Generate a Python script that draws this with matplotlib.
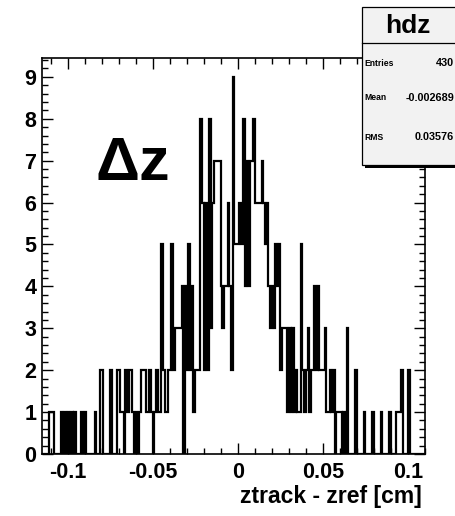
import matplotlib
matplotlib.use("Agg")
import matplotlib.pyplot as plt
from matplotlib.patches import Rectangle
from matplotlib.ticker import MultipleLocator, FixedLocator, FixedFormatter
import numpy as np

plt.rcParams['font.family'] = ['Liberation Sans', 'DejaVu Sans']

# hdz: 225 bins of 0.001 cm from -0.115 to 0.11
x_lo, x_hi = -0.115, 0.11
counts = [
    0, 0, 0, 0, 1, 1, 1, 0, 0, 0, 0, 1, 0, 1, 0,
    1, 0, 1, 0, 1, 0, 0, 0, 1, 0, 1, 0, 0, 0, 0,
    0, 1, 0, 0, 2, 2, 0, 0, 0, 0, 2, 0, 0, 0, 2,
    2, 1, 1, 0, 2, 1, 2, 2, 1, 0, 1, 0, 1, 2, 2,
    2, 1, 1, 2, 1, 0, 1, 2, 1, 1, 5, 2, 1, 1, 2,
    2, 5, 2, 3, 3, 3, 3, 4, 0, 4, 2, 5, 2, 4, 1,
    2, 2, 2, 8, 6, 2, 6, 2, 8, 3, 6, 7, 7, 7, 7,
    4, 3, 4, 4, 6, 4, 2, 9, 5, 5, 5, 6, 5, 8, 4,
    7, 4, 7, 7, 8, 6, 6, 6, 6, 7, 6, 5, 6, 4, 3,
    4, 3, 5, 4, 5, 2, 3, 3, 3, 1, 3, 1, 3, 1, 2,
    1, 1, 5, 2, 1, 2, 3, 1, 2, 2, 4, 2, 4, 2, 2,
    2, 3, 1, 1, 2, 1, 2, 0, 1, 1, 1, 0, 1, 0, 3,
    0, 0, 0, 0, 2, 0, 0, 0, 0, 1, 0, 0, 0, 0, 1,
    0, 0, 0, 0, 1, 0, 0, 0, 0, 1, 0, 0, 0, 1, 1,
    1, 2, 0, 0, 0, 2, 0, 0, 0, 0, 0, 0, 0, 0, 0,
]
x_ticks = [-0.1, -0.05, 0, 0.05, 0.1]
x_tick_labels = ['-0.1', '-0.05', '0', '0.05', '0.1']
y_ticks = list(range(10))
stats = [('Entries', '430'), ('Mean', '-0.002689'), ('RMS', '0.03576')]

W, H = 455, 516
fig = plt.figure(figsize=(W / 100, H / 100), dpi=100)
fig.patch.set_facecolor('white')

ax = fig.add_axes([42 / W, 1 - 454 / H, 383 / W, 396 / H])
edges = np.linspace(x_lo, x_hi, len(counts) + 1)
ax.stairs(counts, edges, color='black', linewidth=1.6, baseline=0)

ax.set_xlim(x_lo, x_hi)
ax.set_ylim(0, max(counts) * 1.05)

ax.xaxis.set_major_locator(FixedLocator(x_ticks))
ax.xaxis.set_major_formatter(FixedFormatter(x_tick_labels))
ax.xaxis.set_minor_locator(MultipleLocator(0.01))
ax.yaxis.set_major_locator(FixedLocator(y_ticks))
ax.yaxis.set_minor_locator(MultipleLocator(0.2))

ax.tick_params(which='both', direction='in', top=True, right=True, width=1.0)
ax.tick_params(which='major', length=8)
ax.tick_params(which='minor', length=4.5)
ax.tick_params(axis='x', pad=6, labelsize=15.5)
ax.tick_params(axis='y', pad=4, labelsize=15.5)
for lab in ax.get_xticklabels() + ax.get_yticklabels():
    lab.set_fontweight('bold')
for sp in ax.spines.values():
    sp.set_linewidth(1.2)

fig.text(422 / W, 1 - 497 / H, 'ztrack - zref [cm]', ha='right', va='center',
         fontsize=16.5, fontweight='bold')
fig.text(95 / W, 1 - 180 / H, '\u0394z', ha='left', va='baseline',
         fontsize=44, fontweight='bold')

# statistics box (overlay in pixel coordinates)
ov = fig.add_axes([0, 0, 1, 1], zorder=10)
ov.set_xlim(0, W)
ov.set_ylim(H, 0)
ov.axis('off')
ov.add_patch(Rectangle((365, 10), 100, 158, facecolor='black', edgecolor='none'))
ov.add_patch(Rectangle((362, 7), 100, 158, facecolor='#f2f2f2', edgecolor='black',
                       linewidth=0.9))
ov.plot([362, 462], [43, 43], color='black', linewidth=0.9)
ov.text(408, 26, 'hdz', ha='center', va='center', fontsize=19, fontweight='bold')
for (name, val), y in zip(stats, [63, 98, 137]):
    ov.text(364, y, name, ha='left', va='center', fontsize=6.2, fontweight='bold')
    ov.text(454, y, val, ha='right', va='center', fontsize=7.8, fontweight='bold')

fig.savefig('out.png', dpi=100)
